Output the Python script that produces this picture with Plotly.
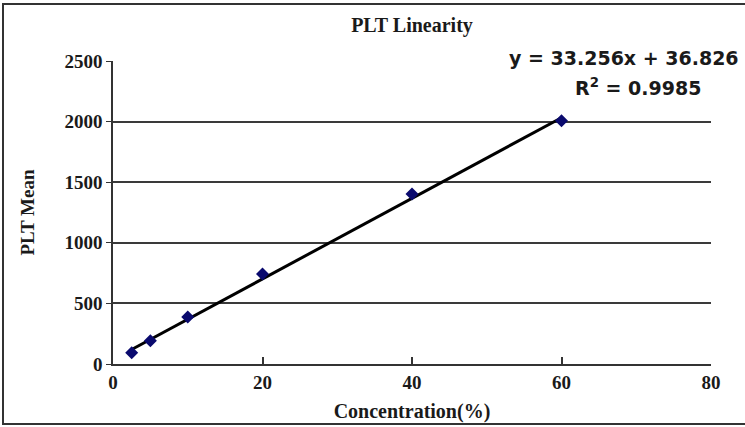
import plotly.graph_objects as go

concentration = [2.5, 5, 10, 20, 40, 60]
plt_mean = [92, 192, 388, 742, 1403, 2008]
slope = 33.256
intercept = 36.826
r_squared = 0.9985
x_ticks = [0, 20, 40, 60, 80]
y_ticks = [0, 500, 1000, 1500, 2000, 2500]

fit_x = [min(concentration), max(concentration)]
fit_y = [slope * v + intercept for v in fit_x]

W, H = 745, 427
ml, mr, mt, mb = 113, 34, 61, 63
pw, ph = W - ml - mr, H - mt - mb

fig = go.Figure()
fig.add_trace(go.Scatter(x=fit_x, y=fit_y, mode="lines",
                         line=dict(color="#000000", width=3), showlegend=False))
fig.add_trace(go.Scatter(x=concentration, y=plt_mean, mode="markers",
                         marker=dict(symbol="diamond", size=10, color="#0a0a6e"),
                         showlegend=False))

serif = "Liberation Serif, Times New Roman, serif"
sans = "DejaVu Sans, sans-serif"
tc = "#1a1a1a"
fig.update_layout(
    width=W, height=H,
    margin=dict(l=ml, r=mr, t=mt, b=mb, autoexpand=False),
    paper_bgcolor="white", plot_bgcolor="white",
    title=dict(text="PLT Linearity", x=412 / W, xanchor="center",
               y=1 - 25 / H, yanchor="middle",
               font=dict(family=serif, size=20, color=tc, weight="bold")),
    xaxis=dict(range=[0, 80], tickvals=x_ticks, showgrid=False, zeroline=False,
               showline=True, linecolor="#333", linewidth=1.5,
               ticks="inside", ticklen=7, tickcolor="#333", tickwidth=1.5,
               tickfont=dict(family=serif, size=19, color=tc, weight="bold"),
               title=dict(text="Concentration(%)", standoff=12,
                          font=dict(family=serif, size=20, color=tc, weight="bold"))),
    yaxis=dict(range=[0, 2500], tickvals=y_ticks, showgrid=True, gridcolor="#3a3a3a",
               gridwidth=1.5, zeroline=False, showline=True, linecolor="#333",
               linewidth=1.5, ticks="outside", ticklen=5, tickcolor="#333",
               tickfont=dict(family=serif, size=19, color=tc, weight="bold"),
               title=dict(text="PLT Mean", standoff=25,
                          font=dict(family=serif, size=19, color=tc, weight="bold"))),
)

eq_text = f"y = {slope}x + {intercept}"
r2_text = f"R<sup>2</sup> = {r_squared}"
fig.add_annotation(text=eq_text, xref="paper", yref="paper",
                   x=(624 - ml) / pw, y=(H - mb - 58) / ph, xanchor="center", yanchor="middle",
                   showarrow=False, font=dict(family=sans, size=19, color=tc, weight="bold"))
fig.add_annotation(text=r2_text, xref="paper", yref="paper",
                   x=(638 - ml) / pw, y=(H - mb - 87) / ph, xanchor="center", yanchor="middle",
                   showarrow=False, font=dict(family=sans, size=19, color=tc, weight="bold"))

# outer frame of the chart
fig.add_shape(type="rect", xref="paper", yref="paper",
              x0=(3 - ml) / pw, x1=(W + 5 - ml) / pw,
              y0=(H - mb - 424) / ph, y1=(H - mb - 4) / ph,
              line=dict(color="#333", width=2), layer="below")

fig.write_html("out.html", config={"displayModeBar": False},
               post_script="document.body.style.margin='0';")
